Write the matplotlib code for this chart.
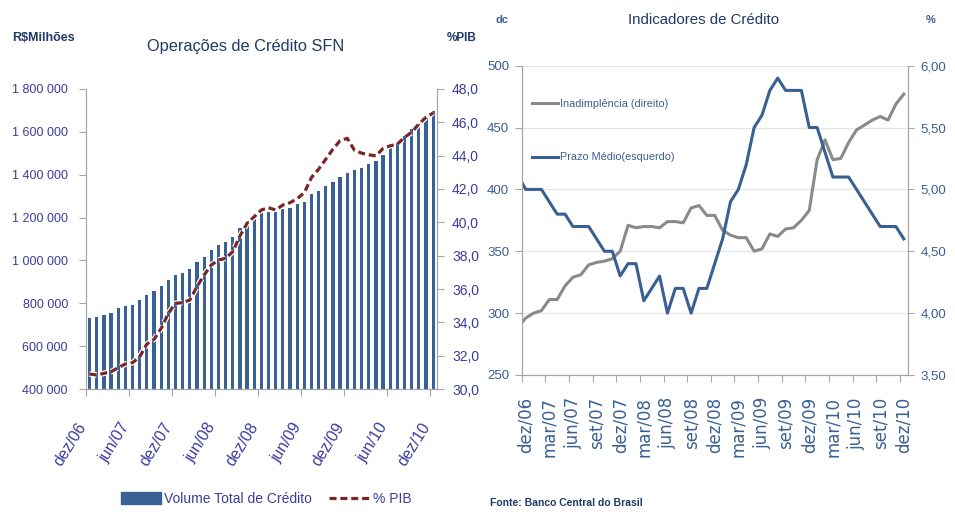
import numpy as np
import matplotlib
matplotlib.use('Agg')
import matplotlib.pyplot as plt
import matplotlib.patches as mpatches
import matplotlib.lines as mlines
import matplotlib.patheffects as pe
from matplotlib.transforms import ScaledTranslation

plt.rcParams['font.family'] = ['Liberation Sans', 'DejaVu Sans']

# ---- Operações de Crédito SFN (dez/06 .. dez/10, monthly) ----
volume = [732300, 737000, 743400, 754400, 778000, 789000, 793800, 817400, 839400, 858300,
          880400, 908700, 930800, 943400, 960700, 990600, 1017400, 1047300, 1071000, 1086700,
          1108800, 1149700, 1184400, 1206000, 1227600, 1226000, 1225000, 1241600, 1246300, 1261900,
          1272700, 1308500, 1325600, 1347400, 1364500, 1387800, 1409600, 1422000, 1432900, 1448500,
          1465600, 1493600, 1527800, 1546500, 1580700, 1611800, 1635100, 1663100, 1697300]
pib = [30.9, 30.84, 30.94, 31.04, 31.28, 31.5, 31.58, 31.94, 32.7, 32.98,
       33.64, 34.54, 35.14, 35.18, 35.34, 36.14, 36.84, 37.44, 37.74, 37.84,
       38.24, 39.18, 39.94, 40.34, 40.74, 40.88, 40.74, 41.04, 41.18, 41.42,
       41.78, 42.69, 43.19, 43.79, 44.39, 44.9, 45.04, 44.33, 44.15, 44.05,
       43.99, 44.43, 44.59, 44.69, 45.1, 45.4, 45.9, 46.3, 46.56]
left_labels = ['dez/06', 'jun/07', 'dez/07', 'jun/08', 'dez/08', 'jun/09', 'dez/09', 'jun/10', 'dez/10']

# ---- Indicadores de Crédito (nov/06 .. dez/10, first point falls off the axis) ----
prazo = [412, 400, 400, 400, 390, 380, 380, 370, 370, 370, 360,
         350, 350, 330, 340, 340, 310, 320, 330, 300, 320,
         320, 300, 320, 320, 340, 360, 390, 400, 420, 450,
         460, 480, 490, 480, 480, 480, 450, 450, 430, 410,
         410, 410, 400, 390, 380, 370, 370, 370, 360]
inad = [3.88, 3.96, 4.00, 4.02, 4.11, 4.11, 4.22, 4.29, 4.31, 4.39, 4.41,
        4.42, 4.44, 4.50, 4.71, 4.69, 4.70, 4.70, 4.69, 4.74, 4.74,
        4.73, 4.85, 4.87, 4.79, 4.79, 4.67, 4.63, 4.61, 4.61, 4.50,
        4.52, 4.64, 4.62, 4.68, 4.69, 4.75, 4.83, 5.24, 5.40, 5.24,
        5.25, 5.38, 5.48, 5.52, 5.56, 5.59, 5.56, 5.69, 5.77]
right_labels = ['dez/06', 'mar/07', 'jun/07', 'set/07', 'dez/07', 'mar/08', 'jun/08', 'set/08',
                'dez/08', 'mar/09', 'jun/09', 'set/09', 'dez/09', 'mar/10', 'jun/10', 'set/10', 'dez/10']

bar_blue = '#3A6195'
line_red = '#7A2626'
line_gray = '#8A8A8A'
navy = '#1F3B66'
purple = '#3C3CA0'
rblue = '#3A5F92'
spine_c = '#A6A6A6'

fig = plt.figure(figsize=(9.55, 5.12), dpi=100)

# left chart
ax1 = fig.add_axes([0.0901, 0.2402, 0.3672, 0.586])
ax1b = ax1.twinx()
x = np.arange(len(volume))
ax1.bar(x, volume, width=0.45, color=bar_blue, zorder=2)
ax1b.plot(x, pib, color=line_red, lw=2.3, linestyle=(0, (2.2, 1.2)),
          path_effects=[pe.withStroke(linewidth=4, foreground='white')])
ax1.set_xlim(-0.5, 48.5)
ax1.set_ylim(400000, 1800000)
ax1b.set_ylim(30, 48)
yt = np.arange(400000, 1800001, 200000)
ax1.set_yticks(yt)
ax1.set_yticklabels([f'{v:,}'.replace(',', ' ') for v in yt])
pt = np.arange(30, 48.1, 2)
ax1b.set_yticks(pt)
ax1b.set_yticklabels([f'{v:.1f}'.replace('.', ',') for v in pt])
ax1.set_xticks(np.arange(0, 49, 6) - 0.5)
ax1.set_xticklabels([])
ax1.set_xticks(np.arange(0, 49, 6), minor=True)
ax1.set_xticklabels(left_labels, minor=True, rotation=58, ha='right', va='top',
                    fontsize=11.5, color=purple)
shift = ScaledTranslation(0.07, 0, fig.dpi_scale_trans)
for lab in ax1.get_xticklabels(minor=True):
    lab.set_transform(lab.get_transform() + shift)
ax1.tick_params(axis='x', which='major', direction='out', length=5, color=spine_c)
ax1.tick_params(axis='x', which='minor', length=0, pad=22)
ax1.tick_params(axis='y', direction='out', length=5, color=spine_c, labelsize=9,
                labelcolor=purple, pad=8)
ax1b.tick_params(axis='y', direction='out', length=5, color=spine_c, labelsize=10,
                 labelcolor=purple, pad=6)
for a in (ax1, ax1b):
    a.spines['top'].set_visible(False)
    for s in ('left', 'right', 'bottom'):
        a.spines[s].set_color(spine_c)

fig.text(12 / 955, 1 - 37.7 / 512, 'R$Milhões', fontsize=9, fontweight='bold',
         color=navy, va='center', ha='left')
fig.text(447 / 955, 1 - 37.7 / 512, '%PIB', fontsize=8.5, fontweight='bold',
         color=navy, va='center', ha='left')
fig.text(246 / 955, 1 - 46.7 / 512, 'Operações de Crédito SFN', fontsize=11.8,
         color=navy, va='center', ha='center')

h_bar = mpatches.Patch(color=bar_blue, label='Volume Total de Crédito')
h_pib = mlines.Line2D([], [], color=line_red, lw=2.3, linestyle=(0, (2.2, 1.2)), label='% PIB')
fig.legend(handles=[h_bar, h_pib], loc='center', bbox_to_anchor=(266 / 955, 1 - 499 / 512),
           ncol=2, frameon=False, fontsize=10, labelcolor=purple, handlelength=2.9,
           handleheight=0.95, handletextpad=0.25, columnspacing=1.2)

# right chart
ax2 = fig.add_axes([0.5463, 0.2676, 0.4042, 0.6041])
ax2b = ax2.twinx()
xr = np.arange(-1, len(prazo) - 1)
ax2.set_zorder(ax2b.get_zorder() + 1)
ax2.patch.set_visible(False)
l_prazo, = ax2.plot(xr, prazo, color=rblue, lw=2.2, label='Prazo Médio(esquerdo)')
l_inad, = ax2b.plot(xr, inad, color=line_gray, lw=2.2, label='Inadimplência (direito)')
ax2.set_xlim(-0.5, 48.5)
ax2.set_ylim(250, 500)
ax2b.set_ylim(3.5, 6.0)
ax2.set_yticks(np.arange(250, 501, 50))
rt = np.arange(3.5, 6.01, 0.5)
ax2b.set_yticks(rt)
ax2b.set_yticklabels([f'{v:.2f}'.replace('.', ',') for v in rt])
ax2b.grid(axis='y', color='#E6E6E6', lw=1)
ax2b.set_axisbelow(True)
ax2.set_xticks(np.arange(0, 49, 3) - 0.5)
ax2.set_xticklabels([])
ax2.set_xticks(np.arange(0, 49, 3), minor=True)
ax2.set_xticklabels(right_labels, minor=True, rotation=90, ha='center', va='top',
                    fontsize=12, color=rblue, family='DejaVu Sans')
ax2.tick_params(axis='x', which='major', direction='out', length=5, color=spine_c)
ax2.tick_params(axis='x', which='minor', length=0, pad=16)
ax2.tick_params(axis='y', direction='out', length=5, color=spine_c, labelsize=9.5,
                labelcolor=rblue, pad=4)
ax2b.tick_params(axis='y', direction='out', length=4, color=spine_c, labelsize=9.5,
                 labelcolor=rblue, pad=5)
for a in (ax2, ax2b):
    a.spines['top'].set_visible(False)
    for s in ('left', 'right', 'bottom'):
        a.spines[s].set_color(spine_c)

ax2.legend(handles=[l_inad, l_prazo], loc='upper left', bbox_to_anchor=(0.0267, 0.892),
           frameon=False, fontsize=7.8, labelcolor=rblue, handlelength=2.4,
           handletextpad=0.2, labelspacing=4.0, borderpad=0, borderaxespad=0)

fig.text(495 / 955, 1 - 20 / 512, 'dc', fontsize=8, fontweight='bold', color=rblue,
         va='center', ha='left')
fig.text(926 / 955, 1 - 20 / 512, '%', fontsize=8, fontweight='bold', color=rblue,
         va='center', ha='left')
fig.text(704 / 955, 1 - 20 / 512, 'Indicadores de Crédito', fontsize=10.8, color=navy,
         va='center', ha='center')
fig.text(490 / 955, 1 - 503 / 512, 'Fonte: Banco Central do Brasil', fontsize=7.5,
         fontweight='bold', color=navy, va='center', ha='left')

fig.savefig('out.png', dpi=100)
